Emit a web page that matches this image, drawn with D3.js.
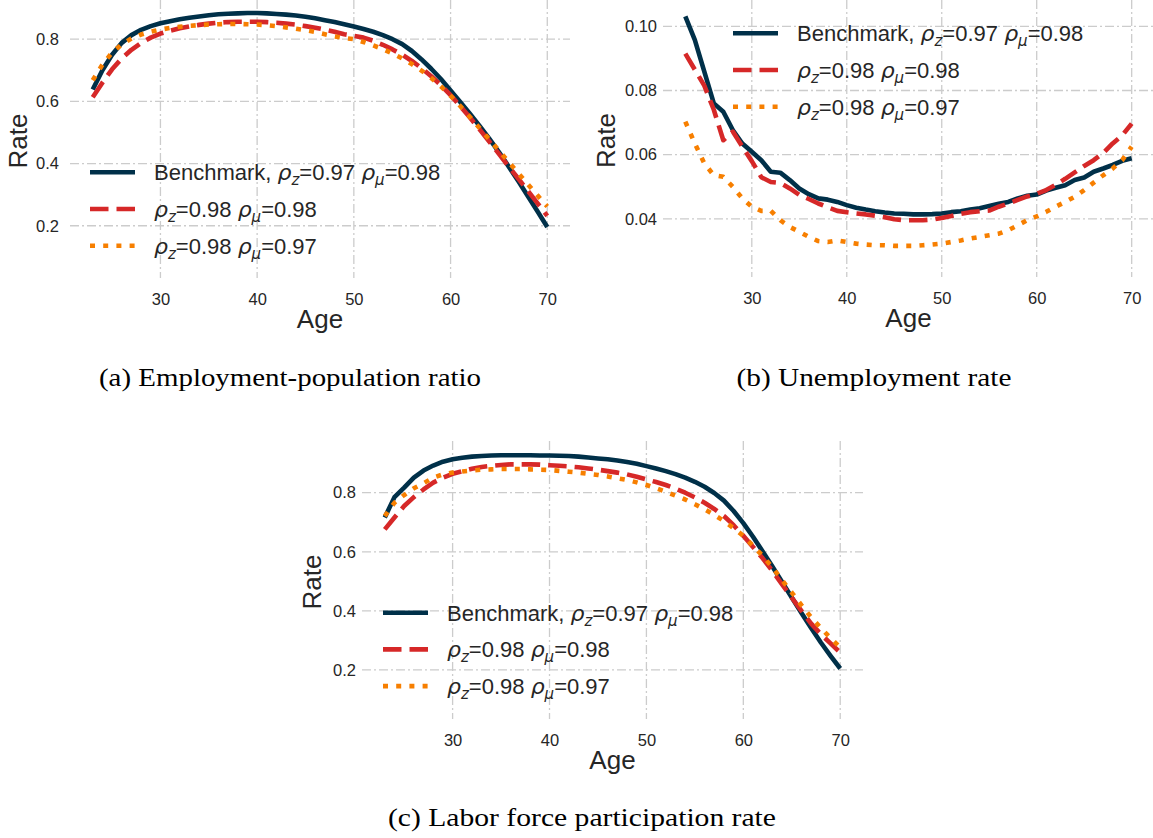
<!DOCTYPE html>
<html>
<head>
<meta charset="utf-8">
<script src="https://cdn.jsdelivr.net/npm/d3@7"></script>
<style>
  body { margin: 0; background: #fff; }
  svg { display: block; }
</style>
</head>
<body>
<svg id="fig" width="1153" height="838"></svg>
<script>
// Ages on the horizontal axis
const ages = [23,24,25,26,27,28,29,30,31,32,33,34,35,36,37,38,39,40,41,42,43,44,45,46,
              47,48,49,50,51,52,53,54,55,56,57,58,59,60,61,62,63,64,65,66,67,68,69,70];

// (a) Employment-population ratio
const empBench = [0.638,0.700,0.750,0.788,0.813,0.830,0.842,0.851,0.858,0.864,0.869,0.873,
                  0.877,0.880,0.882,0.883,0.884,0.884,0.883,0.881,0.879,0.876,0.872,0.867,
                  0.861,0.855,0.848,0.841,0.833,0.824,0.813,0.800,0.784,0.762,0.735,0.705,
                  0.672,0.635,0.598,0.560,0.521,0.480,0.437,0.391,0.344,0.295,0.246,0.196];
const empZ98   = [0.613,0.660,0.703,0.738,0.766,0.788,0.805,0.818,0.827,0.835,0.841,0.846,
                  0.850,0.853,0.855,0.856,0.856,0.856,0.855,0.853,0.850,0.847,0.842,0.837,
                  0.831,0.824,0.816,0.811,0.805,0.795,0.782,0.767,0.750,0.730,0.707,0.681,
                  0.652,0.620,0.585,0.548,0.510,0.471,0.431,0.391,0.352,0.312,0.272,0.232];
const empMu97  = [0.668,0.718,0.757,0.783,0.802,0.815,0.824,0.831,0.836,0.840,0.843,0.845,
                  0.847,0.848,0.849,0.849,0.848,0.847,0.845,0.842,0.838,0.834,0.829,0.823,
                  0.816,0.809,0.804,0.800,0.791,0.780,0.768,0.754,0.738,0.720,0.699,0.675,
                  0.648,0.618,0.585,0.550,0.514,0.478,0.442,0.405,0.369,0.333,0.297,0.262];

// (b) Unemployment rate
const unBench  = [0.1031,0.0958,0.0859,0.0760,0.0734,0.0677,0.0635,0.0609,0.0583,0.0547,0.0544,0.0521,
                  0.0495,0.0477,0.0464,0.0460,0.0453,0.0443,0.0435,0.0429,0.0424,0.0420,0.0417,0.0416,
                  0.0414,0.0414,0.0415,0.0417,0.0421,0.0424,0.0429,0.0433,0.0440,0.0447,0.0453,0.0464,
                  0.0472,0.0476,0.0488,0.0497,0.0505,0.0521,0.0529,0.0547,0.0557,0.0568,0.0581,0.0589];
const unZ98    = [0.0915,0.0865,0.0815,0.0740,0.0645,0.0672,0.0625,0.0580,0.0530,0.0515,0.0512,0.0495,
                  0.0475,0.0462,0.0448,0.0436,0.0425,0.0421,0.0417,0.0414,0.0410,0.0405,0.0399,0.0396,
                  0.0396,0.0396,0.0398,0.0403,0.0409,0.0416,0.0421,0.0424,0.0426,0.0438,0.0448,0.0459,
                  0.0470,0.0478,0.0490,0.0506,0.0525,0.0545,0.0565,0.0583,0.0605,0.0635,0.0660,0.0697];
const unMu97   = [0.0703,0.0635,0.0573,0.0536,0.0531,0.0500,0.0464,0.0438,0.0425,0.0425,0.0396,0.0375,
                  0.0360,0.0344,0.0331,0.0328,0.0333,0.0328,0.0323,0.0320,0.0318,0.0318,0.0316,0.0316,
                  0.0316,0.0318,0.0320,0.0323,0.0328,0.0333,0.0339,0.0344,0.0349,0.0354,0.0365,0.0380,
                  0.0396,0.0408,0.0422,0.0438,0.0453,0.0469,0.0490,0.0513,0.0536,0.0557,0.0583,0.0625];

// (c) Labor force participation rate
const lfpBench = [0.716,0.785,0.817,0.851,0.875,0.892,0.905,0.913,0.918,0.922,0.924,0.926,
                  0.927,0.927,0.927,0.927,0.926,0.926,0.925,0.924,0.922,0.919,0.916,0.913,
                  0.909,0.904,0.898,0.890,0.882,0.873,0.863,0.851,0.837,0.820,0.799,0.773,
                  0.738,0.697,0.651,0.601,0.550,0.498,0.445,0.393,0.342,0.293,0.248,0.205];
const lfpZ98   = [0.676,0.716,0.755,0.785,0.811,0.834,0.851,0.864,0.873,0.881,0.887,0.891,
                  0.894,0.896,0.896,0.896,0.895,0.893,0.891,0.889,0.886,0.882,0.878,0.873,
                  0.868,0.862,0.854,0.845,0.836,0.826,0.814,0.800,0.784,0.766,0.745,0.721,
                  0.690,0.654,0.616,0.578,0.535,0.490,0.445,0.400,0.357,0.321,0.290,0.259];
const lfpMu97  = [0.721,0.766,0.792,0.815,0.832,0.851,0.862,0.868,0.872,0.875,0.878,0.879,
                  0.880,0.880,0.880,0.879,0.878,0.877,0.874,0.871,0.868,0.864,0.860,0.855,
                  0.849,0.843,0.835,0.826,0.815,0.803,0.790,0.777,0.761,0.744,0.725,0.704,
                  0.680,0.654,0.620,0.586,0.547,0.504,0.462,0.419,0.378,0.342,0.308,0.276];

// Tick values
const ageTicks  = [30, 40, 50, 60, 70];
const rateTicks = [0.2, 0.4, 0.6, 0.8];
const unTicks   = [0.04, 0.06, 0.08, 0.10];

// Legend entries: plain text pieces and rho with a subscript
const legendLabels = [
  [{t: "Benchmark, "}, {rho: "z"}, {t: "=0.97 "}, {rho: "μ"}, {t: "=0.98"}],
  [{rho: "z"}, {t: "=0.98 "}, {rho: "μ"}, {t: "=0.98"}],
  [{rho: "z"}, {t: "=0.98 "}, {rho: "μ"}, {t: "=0.97"}]
];
const captions = ["(a) Employment-population ratio", "(b) Unemployment rate",
                  "(c) Labor force participation rate"];

const palette = ["#003049", "#d62828", "#f77f00"];
const dashes  = [null, "18.5,8", "5,8.2"];

const svg = d3.select("#fig");
const TEXT = "#262626";
const SANS = "Liberation Sans, Arial, sans-serif";

function panel(cfg) {
  const g = svg.append("g");
  const x = d3.scaleLinear().domain([20.65, 72.35]).range([cfg.left, cfg.right]);
  const y = d3.scaleLinear().domain(cfg.yDomain).range([cfg.bottom, cfg.top]);

  // grid
  const grid = g.append("g").attr("stroke", "#cccccc").attr("stroke-width", 1.3)
    .attr("stroke-dasharray", "9,3,2,3").attr("fill", "none");
  grid.selectAll("line.v").data(ageTicks).join("line").attr("class", "v")
    .attr("x1", d => x(d)).attr("x2", d => x(d)).attr("y1", cfg.top).attr("y2", cfg.bottom);
  grid.selectAll("line.h").data(cfg.yTicks).join("line").attr("class", "h")
    .attr("x1", cfg.left).attr("x2", cfg.right).attr("y1", d => y(d)).attr("y2", d => y(d));

  // axes (tick labels only)
  const xAxis = d3.axisBottom(x).tickValues(ageTicks).tickSize(0).tickPadding(15)
    .tickFormat(d3.format("d"));
  const gx = g.append("g").attr("transform", `translate(0,${cfg.bottom})`).call(xAxis);
  const yAxis = d3.axisLeft(y).tickValues(cfg.yTicks).tickSize(0).tickPadding(cfg.yPad)
    .tickFormat(d3.format(cfg.fmt));
  const gy = g.append("g").attr("transform", `translate(${cfg.left},0)`).call(yAxis);
  [gx, gy].forEach(a => {
    a.select(".domain").remove();
    a.selectAll("text").attr("fill", TEXT).style("font-family", SANS).style("font-size", "16.5px");
  });

  // axis titles
  g.append("text").attr("x", (cfg.left + cfg.right) / 2).attr("y", cfg.bottom + 50)
    .attr("text-anchor", "middle").attr("fill", TEXT)
    .style("font-family", SANS).style("font-size", "26px").text("Age");
  g.append("text").attr("transform", `translate(${cfg.rateX},${(cfg.top + cfg.bottom) / 2 + 2}) rotate(-90)`)
    .attr("text-anchor", "middle").attr("fill", TEXT)
    .style("font-family", SANS).style("font-size", "26px").text("Rate");

  // curves
  const line = d3.line().x((d, i) => x(ages[i])).y(d => y(d));
  cfg.series.forEach((s, k) => {
    g.append("path").datum(s).attr("d", line).attr("fill", "none")
      .attr("stroke", palette[k]).attr("stroke-width", 4.6)
      .attr("stroke-dasharray", dashes[k]).attr("stroke-linejoin", "round");
  });

  // legend
  legendLabels.forEach((parts, k) => {
    const cy = cfg.legY + k * 36.7;
    g.append("line").attr("x1", cfg.legX).attr("x2", cfg.legX + 45).attr("y1", cy).attr("y2", cy)
      .attr("stroke", palette[k]).attr("stroke-width", 4.6).attr("stroke-dasharray", dashes[k]);
    const t = g.append("text").attr("x", cfg.legX + 64).attr("y", cy + 8).attr("fill", TEXT)
      .style("font-family", SANS).style("font-size", "22px");
    let shift = 0;   // baseline offset still to undo after a subscript
    parts.forEach(p => {
      if (p.t) {
        t.append("tspan").attr("dy", -shift).text(p.t);
        shift = 0;
      } else {
        t.append("tspan").attr("dy", -shift).style("font-family", "DejaVu Sans")
          .style("font-style", "italic").text("ρ");
        t.append("tspan").attr("dy", 5).style("font-family", "DejaVu Sans").style("font-style", "italic")
          .style("font-size", "15px").text(p.rho);
        shift = 5;
      }
    });
  });

  // caption
  svg.append("text").attr("x", cfg.capX).attr("y", cfg.capY).attr("text-anchor", "middle")
    .attr("fill", "#000").style("font-family", "Liberation Serif, DejaVu Serif, serif")
    .style("font-size", "25px").attr("textLength", cfg.capW).attr("lengthAdjust", "spacingAndGlyphs")
    .text(cfg.caption);
}

panel({left: 70, right: 570, top: 0, bottom: 278, yDomain: [0.032, 0.926], yTicks: rateTicks,
       fmt: ".1f", yPad: 11, rateX: 27, series: [empBench, empZ98, empMu97],
       legX: 90, legY: 172.3, caption: captions[0], capX: 290, capY: 386, capW: 382});
panel({left: 663, right: 1154, top: 0, bottom: 277, yDomain: [0.0219, 0.1082], yTicks: unTicks,
       fmt: ".2f", yPad: 6, rateX: 615, series: [unBench, unZ98, unMu97],
       legX: 733, legY: 33.3, caption: captions[1], capX: 874, capY: 386, capW: 275});
panel({left: 362, right: 863, top: 441, bottom: 719, yDomain: [0.034, 0.975], yTicks: rateTicks,
       fmt: ".1f", yPad: 6, rateX: 321, series: [lfpBench, lfpZ98, lfpMu97],
       legX: 383, legY: 612.7, caption: captions[2], capX: 582, capY: 826, capW: 388});
</script>
</body>
</html>
